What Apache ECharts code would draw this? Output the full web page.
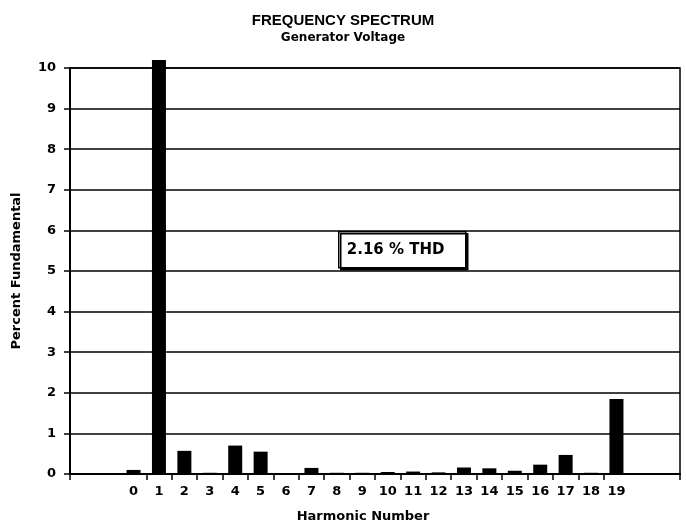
<!DOCTYPE html>
<html>
<head>
<meta charset="utf-8">
<script src="https://cdn.jsdelivr.net/npm/echarts@6/dist/echarts.min.js"></script>
<style>
  html, body { margin: 0; padding: 0; background: #fff; }
  #chart { width: 686px; height: 528px; }
</style>
</head>
<body>
<div id="chart"></div>
<script>
// harmonic numbers and their level, percent of fundamental
var harmonics = ['0','1','2','3','4','5','6','7','8','9','10','11','12','13','14','15','16','17','18','19'];
var percent   = [0.10, 10.2, 0.57, 0.03, 0.70, 0.55, 0.02, 0.15, 0.03, 0.03, 0.05, 0.06, 0.04, 0.16, 0.14, 0.08, 0.23, 0.47, 0.03, 1.85];
var yTicks = [0,1,2,3,4,5,6,7,8,9,10];
var thdNote = '2.16 % THD';

// two empty slots each side of the harmonics, like the original plot
var pad = 2;
var cats = [], vals = [];
for (var i = 0; i < pad; i++) { cats.push(' '.repeat(i + 1)); vals.push('-'); }
for (var i = 0; i < harmonics.length; i++) { cats.push(harmonics[i]); vals.push(percent[i]); }
for (var i = 0; i < pad; i++) { cats.push(' '.repeat(i + 3)); vals.push('-'); }

var font = 'DejaVu Sans';
var chart = echarts.init(document.getElementById('chart'));
var option = {
    animation: false,
    backgroundColor: '#fff',
    title: {
        text: 'FREQUENCY SPECTRUM',
        subtext: 'Generator Voltage',
        left: 'center',
        top: 8,
        itemGap: 4,
        textStyle: { fontFamily: 'Liberation Sans', fontSize: 15, fontWeight: 'bold', color: '#000' },
        subtextStyle: { fontFamily: font, fontSize: 12, fontWeight: 'bold', color: '#000' }
    },
    grid: {
        left: 70,
        right: 6,
        top: 68,
        bottom: 53,
        show: true,
        borderColor: '#000',
        borderWidth: 1.5
    },
    xAxis: {
        type: 'category',
        data: cats,
        boundaryGap: true,
        name: 'Harmonic Number',
        nameLocation: 'middle',
        nameGap: 36,
        nameTextStyle: { fontFamily: font, fontSize: 13, fontWeight: 'bold', color: '#000', padding: [0, 24, 0, 0] },
        axisLine: { lineStyle: { color: '#000', width: 2 } },
        axisTick: {
            show: true,
            length: 6,
            lineStyle: { color: '#000', width: 1.5 },
            // ticks only between harmonics (plus both ends of the axis)
            interval: function (idx) { return idx === 0 || (idx > pad && idx < pad + harmonics.length); }
        },
        axisLabel: {
            interval: 0,
            margin: 11,
            fontFamily: font, fontSize: 13, fontWeight: 'bold', color: '#000'
        },
        splitLine: { show: false }
    },
    yAxis: {
        type: 'value',
        min: yTicks[0],
        max: yTicks[yTicks.length - 1],
        interval: 1,
        name: 'Percent Fundamental',
        nameLocation: 'middle',
        nameGap: 47,
        nameTextStyle: { fontFamily: font, fontSize: 13, fontWeight: 'bold', color: '#000' },
        axisLine: { show: true, lineStyle: { color: '#000', width: 2 } },
        axisTick: { show: true, length: 6, lineStyle: { color: '#000', width: 1.5 } },
        axisLabel: { margin: 14, fontFamily: font, fontSize: 13, fontWeight: 'bold', color: '#000' },
        splitLine: { lineStyle: { color: '#000', width: 1.5 } }
    },
    series: [{
        type: 'bar',
        data: vals,
        barWidth: 14,
        clip: false,
        itemStyle: { color: '#000' }
    }],
    graphic: [{
        type: 'group',
        left: 338,
        top: 231,
        children: [
            { type: 'rect', shape: { x: 0, y: 0, width: 127, height: 36 },
              style: { fill: '#fff', stroke: '#000', lineWidth: 1.5, shadowColor: '#000', shadowOffsetX: 2, shadowOffsetY: 2 } },
            { type: 'text', x: 8, y: 18,
              style: { text: thdNote, fill: '#000', font: 'bold 15px "DejaVu Sans"', textVerticalAlign: 'middle' } }
        ]
    }]
};
chart.setOption(option);
</script>
</body>
</html>
